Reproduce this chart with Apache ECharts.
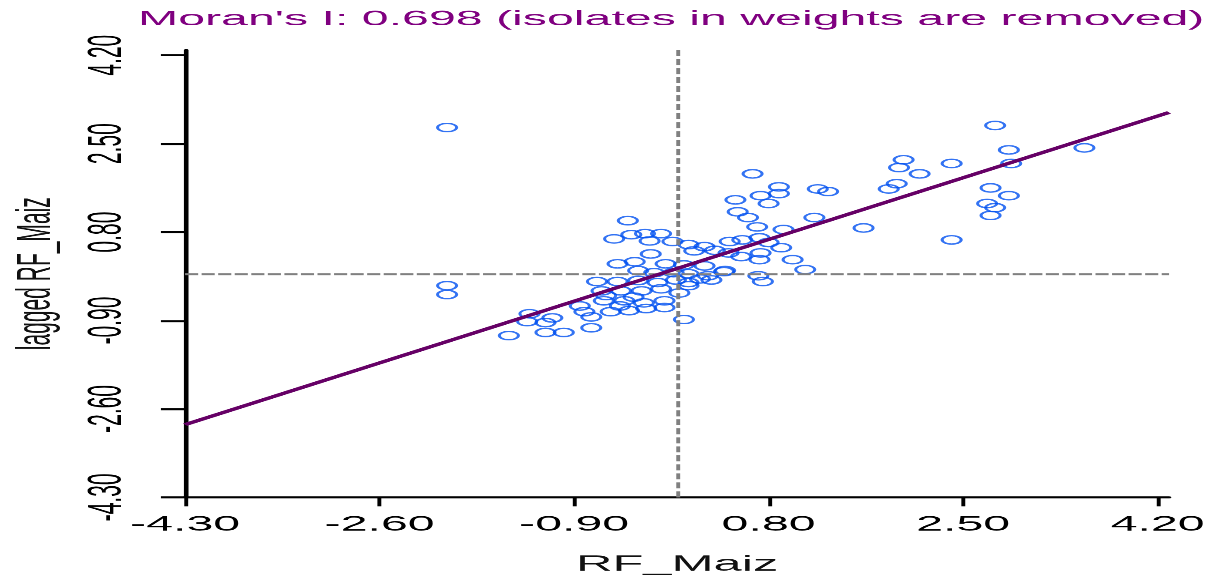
<!DOCTYPE html>
<html>
<head>
<meta charset="utf-8">
<script src="https://cdn.jsdelivr.net/npm/echarts@6/dist/echarts.min.js"></script>
<style>
  html, body { margin: 0; padding: 0; background: #fff; }
  #frame { width: 1207px; height: 575px; overflow: hidden; position: relative; }
  /* the plot is laid out on a narrow canvas and widened horizontally */
  #chart { width: 525px; height: 575px; transform-origin: 0 0; }
</style>
</head>
<body>
<div id="frame"><div id="chart"></div></div>
<script>
// Horizontal stretch of the whole plot
const stretchX = 1207 / 525;

// Axis ticks (standardized values)
const xTicks = [-4.3, -2.6, -0.9, 0.8, 2.5, 4.2];
const yTicks = [-4.3, -2.6, -0.9, 0.8, 2.5, 4.2];
const axisMin = -4.3;
const axisMax = 4.3;

// Moran's I (slope of the fitted line) and intercept of the fit
const moranI = 0.698;
const fitIntercept = 0.1;

// Means of the standardized variables (reference cross-hairs)
const meanX = 0;
const meanY = 0;

// Standardized RF_Maiz values
const rfMaiz = [
  -2.01, -2.01, -2.01,
  -1.47, -1.29, -1.31, -1.15, -1.15, -0.99, -1.09, -0.81, -0.75, -0.75,
  -0.58, -0.42, -0.27, -0.11, 0.06, -0.64, -0.46, -0.29, -0.11,
  -0.66, -0.49, -0.31, -0.14, 0.02, -0.70, -0.52, -0.34, -0.17, -0.01,
  0.10, 0.30, -0.34, -0.20, -0.03, 0.10, 0.27, 0.41, -0.52, -0.37,
  -0.10, 0.06, 0.24, -0.23, -0.43, -0.55, -0.40, -0.28, -0.14, -0.24,
  -0.04, 0.10, 0.15, 0.24, 0.10,
  0.46, 0.57, 0.72, 0.80, 0.45, 0.56, 0.73, 0.91, 1.01, 0.72, 1.12,
  0.42, 0.71, 0.75,
  0.66, 0.89, 0.89, 0.73, 0.51, 0.80, 0.53, 0.62, 0.70, 0.93, 1.23,
  1.32, 1.20, 1.63, 1.85, 1.92, 1.98, 1.94, 2.12, 2.40, 2.40, 2.78,
  2.90, 2.92, 3.56, 2.74, 2.90, 2.71, 2.78, 2.74,
  -0.62, -0.38, 0.20, 0.33, -0.85, -0.50
];

// Spatially lagged RF_Maiz values
const laggedRfMaiz = [
  2.81, -0.23, -0.40,
  -1.19, -0.77, -0.92, -0.94, -1.13, -1.13, -0.85, -0.73, -0.83, -1.04,
  -0.73, -0.71, -0.67, -0.65, -0.88, -0.52, -0.52, -0.56, -0.52,
  -0.33, -0.33, -0.33, -0.29, -0.37, -0.15, -0.15, -0.13, -0.17, -0.12,
  -0.17, -0.12, 0.06, 0.02, 0.02, 0.00, -0.04, 0.04, 0.19, 0.23,
  0.19, 0.17, 0.15, 0.38, 1.02, 0.67, 0.75, 0.77, 0.77, 0.63,
  0.62, 0.56, 0.44, 0.52, -0.23,
  0.62, 0.65, 0.69, 0.60, 0.40, 0.33, 0.40, 0.50, 0.27, 0.27, 0.08,
  0.06, -0.04, -0.15,
  1.92, 1.67, 1.54, 1.50, 1.42, 1.35, 1.19, 1.08, 0.90, 0.85, 1.63,
  1.58, 1.08, 0.88, 1.63, 1.73, 2.19, 2.04, 1.92, 2.12, 0.65, 2.85,
  2.38, 2.12, 2.42, 1.65, 1.50, 1.35, 1.27, 1.12,
  -0.42, -0.45, -0.10, 0.45, -0.62, -0.62
];

const points = rfMaiz.map((x, i) => [x, laggedRfMaiz[i]]);
const fitLine = [
  [axisMin, moranI * axisMin + fitIntercept],
  [axisMax, moranI * axisMax + fitIntercept]
];

const el = document.getElementById('chart');
el.style.transform = 'scaleX(' + stretchX + ')';
const chart = echarts.init(el, null, { renderer: 'canvas', devicePixelRatio: stretchX });

const font = 'Liberation Sans';
const fmt = v => v.toFixed(2);

chart.setOption({
  animation: false,
  backgroundColor: '#ffffff',
  textStyle: { fontFamily: font },
  title: {
    text: "Moran's I: " + moranI.toFixed(3) + ' (isolates in weights are removed)',
    left: 60,
    top: 9,
    padding: 0,
    textStyle: { color: '#800080', fontSize: 21, fontWeight: 'normal', fontFamily: font }
  },
  grid: {
    left: 80.5, right: 16.5, top: 50, bottom: 78,
    containLabel: false,
    outerBoundsMode: 'none'
  },
  xAxis: {
    type: 'value',
    min: axisMin,
    max: axisMax,
    name: 'RF_Maiz',
    nameLocation: 'middle',
    nameGap: 56,
    nameTextStyle: { color: '#111', fontSize: 22, fontFamily: font },
    axisLine: { onZero: false, lineStyle: { color: '#000', width: 2 } },
    axisTick: { customValues: xTicks, length: 9, lineStyle: { color: '#000', width: 1.7 } },
    axisLabel: { customValues: xTicks, formatter: fmt, color: '#000', fontSize: 21, margin: 17, fontFamily: font },
    splitLine: { show: false }
  },
  yAxis: {
    type: 'value',
    min: axisMin,
    max: axisMax,
    name: 'lagged RF_Maiz',
    nameLocation: 'middle',
    nameRotate: 90,
    nameGap: 54,
    nameTextStyle: { color: '#111', fontSize: 21, fontFamily: font },
    axisLine: { onZero: false, lineStyle: { color: '#000', width: 2 } },
    axisTick: { customValues: yTicks, length: 10.5, lineStyle: { color: '#000', width: 2 } },
    axisLabel: { customValues: yTicks, formatter: fmt, rotate: 90, color: '#000', fontSize: 21, margin: 23, fontFamily: font },
    splitLine: { show: false }
  },
  series: [
    {
      type: 'scatter',
      data: points,
      symbol: 'circle',
      symbolSize: 8.3,
      itemStyle: { color: 'rgba(0,0,0,0)', borderColor: '#0050f0', borderWidth: 1.3 },
      z: 2,
      markLine: {
        silent: true,
        symbol: 'none',
        label: { show: false },
        animation: false,
        data: [
          { xAxis: meanX, lineStyle: { color: '#808080', width: 1.7, type: [6, 3] } },
          { yAxis: meanY, lineStyle: { color: '#808080', width: 2, type: [5.7, 1.5] } }
        ]
      }
    },
    {
      type: 'line',
      data: fitLine,
      symbol: 'none',
      clip: false,
      lineStyle: { color: '#660066', width: 3 },
      z: 5
    }
  ]
});
</script>
</body>
</html>
